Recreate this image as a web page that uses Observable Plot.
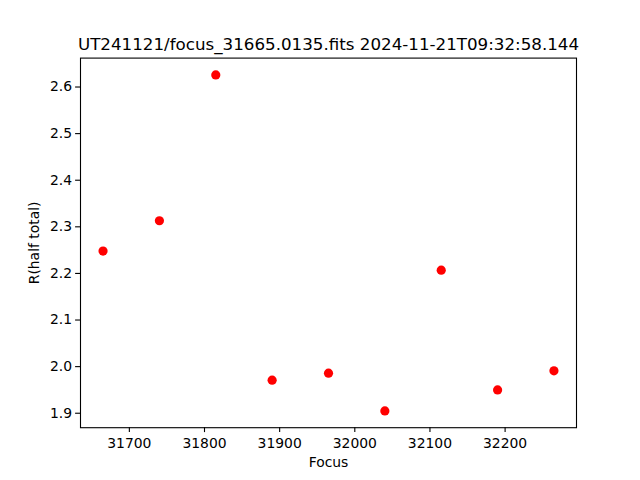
<!DOCTYPE html>
<html>
<head>
<meta charset="utf-8">
<script src="https://cdn.jsdelivr.net/npm/d3@7"></script>
<script src="https://cdn.jsdelivr.net/npm/@observablehq/plot@0.6"></script>
<style>
  html, body { margin: 0; padding: 0; background: white; }
</style>
</head>
<body>
<div id="chart"></div>
<script>
const titleText = "UT241121/focus_31665.0135.fits 2024-11-21T09:32:58.144";
const xLabel = "Focus";
const yLabel = "R(half total)";
const focus = [31665, 31740, 31815, 31890, 31965, 32040, 32115, 32190, 32265];
const rHalf = [2.248, 2.313, 2.626, 1.971, 1.986, 1.905, 2.207, 1.950, 1.991];
const xTicks = [31700, 31800, 31900, 32000, 32100, 32200];
const yTicks = [1.9, 2.0, 2.1, 2.2, 2.3, 2.4, 2.5, 2.6];

const data = focus.map((f, i) => ({focus: f, r: rHalf[i]}));

const xPad = (d3.max(focus) - d3.min(focus)) * 0.05;
const yPad = (d3.max(rHalf) - d3.min(rHalf)) * 0.05;

const chart = Plot.plot({
  width: 640,
  height: 480,
  marginLeft: 80,
  marginRight: 64,
  marginTop: 57.6,
  marginBottom: 52.8,
  style: {fontFamily: "DejaVu Sans", fontSize: "13.9px", color: "black", background: "white"},
  x: {domain: [d3.min(focus) - xPad, d3.max(focus) + xPad]},
  y: {domain: [d3.min(rHalf) - yPad, d3.max(rHalf) + yPad]},
  marks: [
    Plot.frame({stroke: "black", strokeWidth: 1.1}),
    Plot.axisX({ticks: xTicks, tickFormat: "d", tickSize: 4.9, tickPadding: 5.5, label: null, stroke: "black", strokeWidth: 1.1}),
    Plot.axisY({ticks: yTicks, tickFormat: ".1f", tickSize: 4.9, tickPadding: 3.5, label: null, stroke: "black", strokeWidth: 1.1}),
    Plot.dot(data, {x: "focus", y: "r", r: 4.6, fill: "#ff0000", stroke: "none"}),
    Plot.text([titleText], {frameAnchor: "top", text: d => d, lineAnchor: "bottom", dy: -8, fontSize: 16.7, fill: "black"}),
    Plot.text([xLabel], {frameAnchor: "bottom", text: d => d, lineAnchor: "top", dy: 29, fontSize: 13.9, fill: "black"}),
    Plot.text([yLabel], {frameAnchor: "left", text: d => d, rotate: -90, textAnchor: "middle", dx: -46, fontSize: 13.9, fill: "black"})
  ]
});
document.getElementById("chart").appendChild(chart);
</script>
</body>
</html>
